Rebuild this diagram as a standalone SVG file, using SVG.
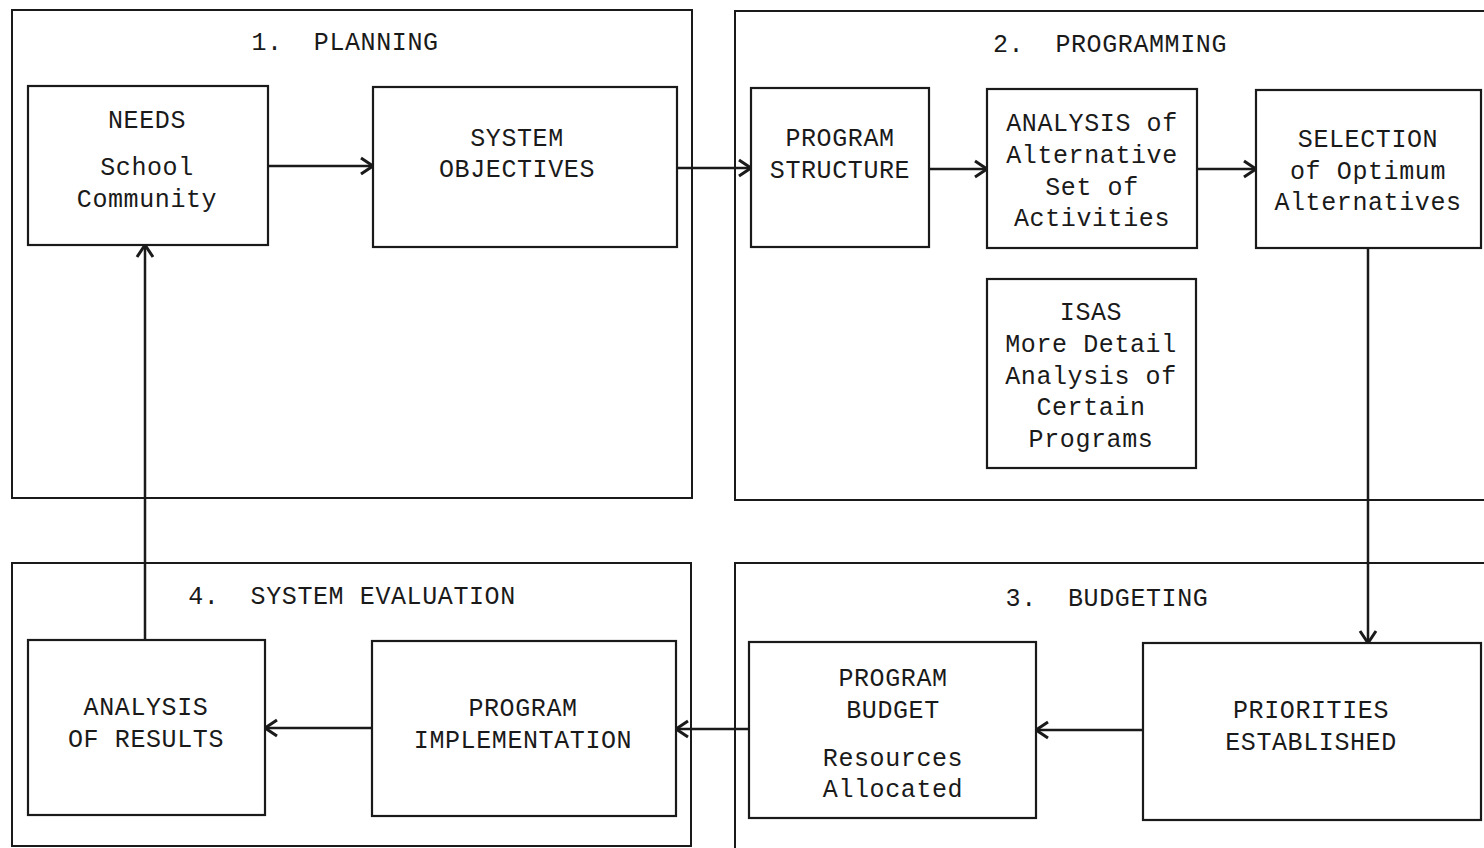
<svg xmlns="http://www.w3.org/2000/svg" width="1484" height="848" viewBox="0 0 1484 848">
<style>
.panel{fill:none;stroke:#1a1a1a;stroke-width:2}
.box{fill:#fff;stroke:#1a1a1a;stroke-width:2.2}
.t{font-family:"Liberation Mono","DejaVu Sans Mono",monospace;font-size:25px;fill:#1a1a1a;text-anchor:middle;letter-spacing:0.6px;white-space:pre}
.c{fill:none;stroke:#1a1a1a;stroke-width:2.5}
</style>
<defs>
<marker id="arr" markerUnits="userSpaceOnUse" markerWidth="18" markerHeight="20" refX="14" refY="10" orient="auto">
<path d="M2,2 L14,10 L2,18" fill="none" stroke="#1a1a1a" stroke-width="3"/>
</marker>
</defs>
<rect width="1484" height="848" fill="#fff"/>
<g id="panel-planning">
<rect class="panel" x="12" y="10" width="680" height="488"/>
<text class="t" x="345" y="50" xml:space="preserve">1.  PLANNING</text>
</g>
<g id="panel-programming">
<rect class="panel" x="735" y="11" width="760" height="489"/>
<text class="t" x="1110" y="52" xml:space="preserve">2.  PROGRAMMING</text>
</g>
<g id="panel-evaluation">
<rect class="panel" x="12" y="563" width="679" height="283"/>
<text class="t" x="352" y="604" xml:space="preserve">4.  SYSTEM EVALUATION</text>
</g>
<g id="panel-budgeting">
<rect class="panel" x="735" y="563" width="760" height="300"/>
<text class="t" x="1107" y="606" xml:space="preserve">3.  BUDGETING</text>
</g>
<g id="connectors">
<line class="c" x1="268" y1="166" x2="373" y2="166" marker-end="url(#arr)"/>
<line class="c" x1="677" y1="168" x2="751" y2="168" marker-end="url(#arr)"/>
<line class="c" x1="929" y1="169" x2="987" y2="169" marker-end="url(#arr)"/>
<line class="c" x1="1197" y1="169" x2="1256" y2="169" marker-end="url(#arr)"/>
<line class="c" x1="1368" y1="248" x2="1368" y2="643" marker-end="url(#arr)"/>
<line class="c" x1="1143" y1="730" x2="1036" y2="730" marker-end="url(#arr)"/>
<line class="c" x1="749" y1="729" x2="676" y2="729" marker-end="url(#arr)"/>
<line class="c" x1="372" y1="728" x2="265" y2="728" marker-end="url(#arr)"/>
<line class="c" x1="145" y1="640" x2="145" y2="245" marker-end="url(#arr)"/>
</g>
<g id="needs">
<rect class="box" x="28" y="86" width="240" height="159"/>
<text class="t" x="147" y="128">NEEDS</text>
<text class="t" x="147" y="175">School</text>
<text class="t" x="147" y="207">Community</text>
</g>
<g id="system-objectives">
<rect class="box" x="373" y="87" width="304" height="160"/>
<text class="t" x="517" y="146">SYSTEM</text>
<text class="t" x="517" y="177">OBJECTIVES</text>
</g>
<g id="program-structure">
<rect class="box" x="751" y="88" width="178" height="159"/>
<text class="t" x="840" y="146">PROGRAM</text>
<text class="t" x="840" y="178">STRUCTURE</text>
</g>
<g id="analysis-alternatives">
<rect class="box" x="987" y="89" width="210" height="159"/>
<text class="t" x="1092" y="131">ANALYSIS of</text>
<text class="t" x="1092" y="163">Alternative</text>
<text class="t" x="1092" y="195">Set of</text>
<text class="t" x="1092" y="226">Activities</text>
</g>
<g id="selection">
<rect class="box" x="1256" y="90" width="225" height="158"/>
<text class="t" x="1368" y="147">SELECTION</text>
<text class="t" x="1368" y="179">of Optimum</text>
<text class="t" x="1368" y="210">Alternatives</text>
</g>
<g id="isas">
<rect class="box" x="987" y="279" width="209" height="189"/>
<text class="t" x="1091" y="320">ISAS</text>
<text class="t" x="1091" y="352">More Detail</text>
<text class="t" x="1091" y="384">Analysis of</text>
<text class="t" x="1091" y="415">Certain</text>
<text class="t" x="1091" y="447">Programs</text>
</g>
<g id="priorities">
<rect class="box" x="1143" y="643" width="338" height="177"/>
<text class="t" x="1311" y="718">PRIORITIES</text>
<text class="t" x="1311" y="750">ESTABLISHED</text>
</g>
<g id="program-budget">
<rect class="box" x="749" y="642" width="287" height="176"/>
<text class="t" x="893" y="686">PROGRAM</text>
<text class="t" x="893" y="718">BUDGET</text>
<text class="t" x="893" y="766">Resources</text>
<text class="t" x="893" y="797">Allocated</text>
</g>
<g id="program-implementation">
<rect class="box" x="372" y="641" width="304" height="175"/>
<text class="t" x="523" y="716">PROGRAM</text>
<text class="t" x="523" y="748">IMPLEMENTATION</text>
</g>
<g id="analysis-results">
<rect class="box" x="28" y="640" width="237" height="175"/>
<text class="t" x="146" y="715">ANALYSIS</text>
<text class="t" x="146" y="747">OF RESULTS</text>
</g>
</svg>
